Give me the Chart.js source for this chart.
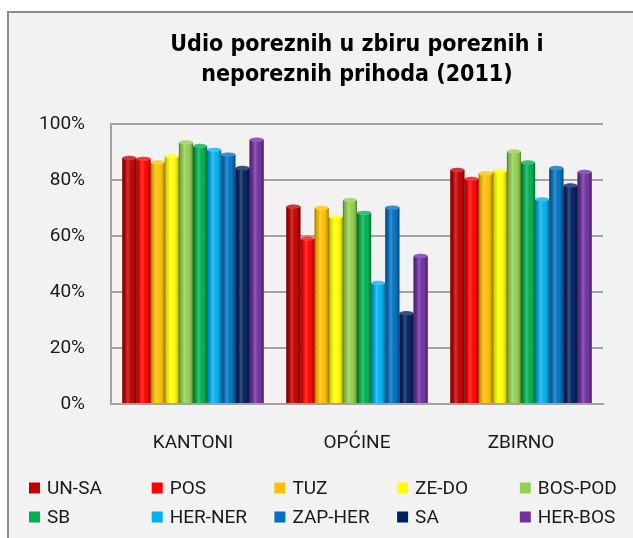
<!DOCTYPE html>
<html>
<head>
<meta charset="utf-8">
<script src="https://cdn.jsdelivr.net/npm/chart.js@4.4.1/dist/chart.umd.min.js"></script>
<style>
  html, body { margin: 0; padding: 0; background: #fff; overflow: hidden; }
  #frame { position: absolute; left: 7px; top: 11px; width: 700px; height: 600px;
           border: 2px solid #8c8c8c; background: #f2f2f2; }
  #chart { position: absolute; left: 0; top: 0; }
</style>
</head>
<body>
<div id="frame"></div>
<canvas id="chart" width="633" height="538"></canvas>
<script>
// Udio poreznih u zbiru poreznih i neporeznih prihoda (2011), values in %
const categories = ['KANTONI', 'OPĆINE', 'ZBIRNO'];
const yTicks = [0, 20, 40, 60, 80, 100];

const unSa   = [87.8, 70.4, 83.5];
const pos    = [87.5, 59.0, 80.3];
const tuz    = [86.2, 70.0, 82.3];
const zeDo   = [88.4, 66.8, 83.2];
const bosPod = [93.3, 72.8, 90.1];
const sb     = [92.1, 68.2, 86.2];
const herNer = [90.7, 43.2, 73.0];
const zapHer = [89.0, 70.1, 84.2];
const sa     = [84.2, 32.4, 78.0];
const herBos = [94.3, 52.8, 82.8];

const seriesNames  = ['UN-SA', 'POS', 'TUZ', 'ZE-DO', 'BOS-POD', 'SB', 'HER-NER', 'ZAP-HER', 'SA', 'HER-BOS'];
const seriesValues = [unSa, pos, tuz, zeDo, bosPod, sb, herNer, zapHer, sa, herBos];
const seriesColors = ['#c00000', '#ff0000', '#ffc000', '#ffff00', '#92d050',
                      '#00b050', '#00b0f0', '#0070c0', '#002060', '#7030a0'];

const GRID = '#a3a3a3';
const TEXT = '#1a1a1a';

function shadeGradient(ctx, left, width) {
  const g = ctx.createLinearGradient(left, 0, left + width, 0);
  g.addColorStop(0, 'rgba(0,0,0,0.42)');
  g.addColorStop(0.15, 'rgba(0,0,0,0.12)');
  g.addColorStop(0.38, 'rgba(255,255,255,0.22)');
  g.addColorStop(0.6, 'rgba(255,255,255,0.02)');
  g.addColorStop(0.88, 'rgba(0,0,0,0.15)');
  g.addColorStop(1, 'rgba(0,0,0,0.42)');
  return g;
}

// cylinder-ish shading and a small top cap on every bar
const shadePlugin = {
  id: 'shade',
  afterDatasetsDraw(chart) {
    const ctx = chart.ctx;
    ctx.save();
    chart.data.datasets.forEach((ds, i) => {
      chart.getDatasetMeta(i).data.forEach(bar => {
        const { x, y, base, width } = bar.getProps(['x', 'y', 'base', 'width'], true);
        const left = x - width / 2;
        ctx.fillStyle = shadeGradient(ctx, left, width);
        ctx.fillRect(left, y, width, base - y);
        // top cap
        ctx.beginPath();
        ctx.ellipse(x, y, width / 2, 2.2, 0, 0, Math.PI * 2);
        ctx.fillStyle = ds.backgroundColor;
        ctx.fill();
        ctx.fillStyle = 'rgba(255,255,255,0.22)';
        ctx.fill();
      });
    });
    ctx.restore();
  }
};

// two-row legend in fixed columns under the plot
const legendPlugin = {
  id: 'gridLegend',
  afterDraw(chart) {
    const ctx = chart.ctx;
    ctx.save();
    ctx.font = '19px Roboto';
    ctx.textBaseline = 'middle';
    chart.data.datasets.forEach((ds, i) => {
      const col = i % 5, row = Math.floor(i / 5);
      const x = 29 + col * 122.7, y = 488 + row * 29;
      ctx.fillStyle = ds.backgroundColor;
      ctx.fillRect(x, y - 5.5, 11, 11);
      ctx.fillStyle = TEXT;
      ctx.fillText(ds.label, x + 18, y + 1);
    });
    ctx.restore();
  }
};

new Chart(document.getElementById('chart'), {
  type: 'bar',
  data: {
    labels: categories,
    datasets: seriesNames.map((name, i) => ({
      label: name,
      data: seriesValues[i],
      backgroundColor: seriesColors[i],
      borderWidth: 0,
      categoryPercentage: 0.862,
      barPercentage: 1.0
    }))
  },
  options: {
    responsive: false,
    animation: false,
    layout: { padding: { left: 0, right: 30, top: 0, bottom: 0 } },
    plugins: {
      legend: { display: false },
      tooltip: { enabled: false },
      title: {
        display: true,
        fullSize: false,
        text: ['Udio poreznih u zbiru poreznih i', 'neporeznih prihoda (2011)'],
        color: '#000',
        font: { family: '"DejaVu Sans Condensed", "DejaVu Sans"', size: 23, weight: 'bold', lineHeight: 1.3 },
        padding: { top: 30, bottom: 34 }
      }
    },
    scales: {
      x: {
        grid: { display: false, drawTicks: false },
        border: { display: true, color: GRID, width: 2 },
        ticks: { color: TEXT, font: { family: 'Roboto', size: 19 }, padding: 28 },
        afterFit: s => { s.height = 134; }
      },
      y: {
        min: 0, max: 100,
        afterBuildTicks: s => { s.ticks = yTicks.map(v => ({ value: v })); },
        grid: { color: GRID, lineWidth: 2, drawTicks: false },
        border: { display: true, color: GRID, width: 2 },
        ticks: { color: TEXT, font: { family: 'Roboto', size: 19 }, padding: 26,
                 callback: v => v + '%' },
        afterFit: s => { s.width = 111; }
      }
    }
  },
  plugins: [shadePlugin, legendPlugin]
});
</script>
</body>
</html>
